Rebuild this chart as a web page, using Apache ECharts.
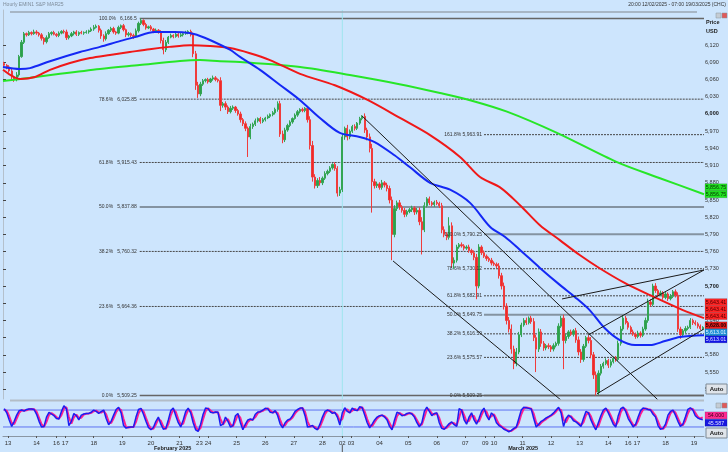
<!DOCTYPE html>
<html><head><meta charset="utf-8">
<script src="https://cdn.jsdelivr.net/npm/echarts@6/dist/echarts.min.js"></script>
<style>html,body{margin:0;padding:0;background:#cde5fd;}#c{width:728px;height:452px;}</style>
</head><body><div id="c"></div>
<script>
// ---- session structure (hours of trading per day segment) ----
const sessionHours = [4,23,16,7,23,23,23,23,16,7,23,23,23,23,16,7,23,23,23,23,16,7,23,23,23,23,16,7,23,23,8];
const dayLabels = ['','13','14','16','17','18','19','20','21','23','24','25','26','27','28','02','03','04','05','06','07','09','10','11','12','13','14','16','17','18','19'];
const monthNames = ['February 2025','March 2025'];

// ---- 2-hour candles: closes, wick extents ----
const firstOpen = 6088;
const closes = [
6085,6082,6075,6065,6060,6068,6100,6125,6140,6138,
6142,6140,6143,6141,6138,6132,6126,6133,6140,6142,
6139,6137,6141,6144,6143,6133,6136,6140,6143,6139,
6142,6141,6142,6143,6145,6148,6151,6153,6146,6136,
6131,6140,6146,6149,6143,6141,6151,6154,6147,6138,
6140,6137,6135,6145,6158,6163,6156,6150,6152,6148,
6144,6146,6143,6128,6112,6125,6134,6137,6135,6139,
6136,6138,6140,6142,6144,6138,6105,6050,6035,6052,
6058,6060,6056,6061,6063,6060,6058,6015,6018,6012,
6004,6010,6012,6006,6000,5990,5983,5975,5960,5978,
5982,5988,5992,5987,5990,5993,5996,5999,6002,6008,
6018,5965,5955,5972,5980,5986,5992,5998,6004,6008,
6006,6010,5990,5945,5890,5875,5884,5880,5888,5896,
5900,5906,5912,5905,5862,5868,5960,5975,5960,5970,
5978,5975,5984,5992,5996,5972,5960,5940,5882,5875,
5878,5872,5880,5876,5870,5850,5790,5835,5845,5838,
5832,5825,5830,5833,5836,5829,5832,5812,5798,5840,
5852,5845,5842,5846,5844,5840,5798,5790,5785,5805,
5740,5745,5768,5772,5770,5766,5768,5762,5758,5750,
5700,5768,5758,5752,5748,5745,5740,5738,5735,5718,
5700,5665,5640,5625,5590,5565,5585,5615,5632,5640,
5636,5644,5638,5610,5590,5620,5600,5592,5596,5594,
5590,5596,5600,5630,5644,5605,5612,5620,5616,5622,
5606,5585,5572,5595,5610,5605,5580,5545,5515,5548,
5560,5565,5570,5562,5568,5574,5572,5600,5625,5644,
5636,5628,5620,5616,5612,5618,5614,5625,5640,5672,
5668,5700,5692,5685,5688,5680,5686,5678,5682,5690,
5684,5625,5615,5622,5626,5628,5640,5636,5634,5630,
5626,5628];
const wickUp = [
3,2,3,4,2,5,3,4,3,2, 3,2,4,3,2,3,2,4,3,2, 3,2,3,2,3,4,2,3,2,3, 2,3,2,3,2,3,4,3,2,3,
3,4,2,3,3,2,3,2,3,2, 3,2,3,4,3,3.5,2,3,2,3, 2,3,2,3,5,4,2,3,2,3, 2,3,2,3,2,3,4,5,6,4,
3,2,3,2,4,3,2,6,3,4, 3,4,3,2,3,4,3,4,3,5, 3,4,2,3,3,2,3,2,3,3, 4,5,6,4,3,3,2,3,3,2,
3,2,4,6,8,5,4,6,3,4, 3,3,2,4,4,5,5,3,6,3, 3,4,2,3,2,5,4,6,8,5, 4,3,5,3,4,5,6,6,4,5,
3,4,3,3,4,3,4,5,8,6, 3,4,3,3,4,3,5,6,4,15, 6,5,4,3,4,3,3,4,3,4, 6,5,3,4,3,3,4,3,3,5,
5,6,5,6,8,6,7,5,4,4, 5,3,4,6,5,6,5,4,3,4, 3,4,3,5,4,6,5,3,4,3, 5,6,5,4,3,4,6,5,6,5,
4,3,4,3,4,3,4,5,5,5, 4,3,3,4,3,4,3,4,5,6, 5,4,5,3,4,3,4,3,4,3, 4,5,4,3,4,3,4,3,4,3, 3,2];
const wickDn = [
3,4,3,5,4,3,3,2,3,3, 2,3,2,3,3,4,5,3,2,3, 2,3,3,2,3,4,3,2,3,3, 3,2,3,2,3,2,3,2,4,5,
5,3,2,3,3,3,2,3,3,4, 3,3,4,2,3,3,3,3,2,3, 3,2,3,5,8,4,3,2,3,2, 3,2,3,2,3,3,6,8,7,4,
3,3,3,2,3,3,3,10,4,5, 4,3,3,4,3,5,4,5,35,4, 4,3,3,4,3,3,2,3,3,3, 4,5,6,4,3,3,3,2,3,3,
3,3,5,7,8,5,4,5,4,3, 3,3,3,4,6,5,4,5,6,4, 3,4,3,3,3,5,6,7,54,5, 4,4,4,4,5,6,45,5,4,5,
4,5,4,3,4,5,4,6,43,4, 3,4,3,4,3,4,6,5,5,4, 8,10,4,3,3,4,3,4,4,5, 23,4,4,3,4,3,4,3,4,5,
6,6,7,6,8,10,5,4,4,3, 4,3,4,6,40,5,6,5,4,4, 5,4,3,4,3,50,5,4,3,4, 5,6,6,4,3,5,6,7,5.75,5,
4,4,3,5,4,3,4,3,4,3, 3,4,4,3,4,3,4,3,3,4, 4,3,4,4,3,4,3,4,3,3, 4,5,7,3,4,3,3,4,3,4, 3,3];

// ---- moving averages: [hour, price] knots ----
const blueMAHours = [0,13.7,21.7,37.8,62,78,94,106,122,138,150,158.5,166.5,182.6,190.7,206.8,222.9,239,255,271,287,299,315,327.5,343.6,359.7,375.8,392,404,416,432,448,460,472,484,496,508.5,520.6,532.6,544.7,564];
const blueMA = [6082,6078.5,6080,6092,6108,6117,6127,6134,6143,6143,6141,6136,6129,6112,6099.5,6077,6050.6,6024,5993,5967,5960,5951,5928,5907,5880,5868,5845,5803,5785.6,5763,5731.6,5702,5681,5658,5626.7,5606,5597,5597,5604,5611,5614];
const redMAHours = [0,13.7,25.7,37.8,53.9,70,86,102,118,134,150.5,166.5,182.6,198.7,214.8,239,267,293.7,319.4,343.6,367.7,383.8,399.9,416,432,448,464,480,500.5,520.6,547,564];
const redMA = [6077,6061,6064.5,6077,6089,6097.6,6103,6108,6113,6117,6120,6118.6,6115,6106,6094,6070,6050,6024,5993,5963,5925,5890,5872,5841,5806,5780,5754,5731,5705,5684,5658,5644];
const greenMAHours = [0,21.7,45.9,78,110,142.4,158.5,174.6,190.7,239,279,319,351.6,375.8,405.5,445.7,494,528.6,564];
const greenMA = [6057.5,6063,6070,6078.5,6085.4,6092.4,6094,6092,6090.7,6082,6068,6052,6036.6,6024,6004,5967,5916,5888,5860];

// ---- trend / channel lines: [[hour, price],[hour, price]] ----
const channelLines = [
  [[288.9,5996.5],[528.6,5498]],
  [[313.8,5743.7],[449.8,5499.6]],
  [[477.9,5512],[564,5625.3]],
  [[449.8,5677.5],[564,5728]],
  [[470.7,5614.5],[564,5728]]
];

// ---- Fibonacci retracements ----
const fibLeftPct = ['100.0%','78.6%','61.8%','50.0%','38.2%','23.6%','0.0%'];
const fibLeftPrice = [6166.5,6025.85,5915.43,5837.88,5760.32,5664.36,5509.25];
const fibLeftStartHour = 110;
const fibRightPct = ['161.8%','100.0%','78.6%','61.8%','50.0%','38.2%','23.6%','0.0%'];
const fibRightPrice = [5963.91,5790.25,5730.12,5682.91,5649.75,5616.59,5575.57,5509.25];
const fibRightStartHour = 387;

// ---- stochastic ----
const stochK = [
85,70,45,22,40,62,78,80,76,82, 84,84,82,65,40,20,22,55,72,66, 60,50,48,75,95,85,25,40,68,60,
45,62,66,68,68,72,80,75,68,74, 80,50,28,40,62,82,90,70,25,16, 19,20,20,55,82,86,65,40,18,10,
18,40,55,30,12,15,45,78,87,60, 35,20,45,75,87,70,35,10,4,30, 65,87,85,72,70,73,72,25,30,55,
40,20,25,60,68,35,10,30,45,48, 45,65,73,74,80,86,85,72,70,78, 60,30,17,35,45,48,60,75,82,87,
87,60,20,22,25,15,10,30,55,75, 80,76,68,72,55,27,70,88,75,70, 87,80,78,92,88,62,35,17,30,45,
55,60,62,55,45,22,10,45,72,68, 60,62,68,70,66,55,35,20,35,75, 90,75,60,68,70,35,15,12,22,32,
38,28,22,85,80,45,30,55,70,45, 30,50,75,87,60,45,70,60,35,25, 20,12,8,3,8,15,20,50,80,90,
88,86,84,50,20,30,40,45,52,57, 62,70,80,90,70,22,50,62,55,42, 38,30,22,50,75,70,45,25,10,35,
60,80,87,70,50,30,20,60,85,90, 75,50,35,20,30,55,78,87,85,82, 80,65,55,25,12,15,30,62,75,80,
62,40,22,30,55,82,88,80,60,52, 48,45.587];
const stochD = [
80,78,58,34,30,50,70,79,78,79, 83,84,83,74,52,30,21,38,63,69, 63,55,49,62,85,90,55,32,54,64,
52,53,64,67,68,70,76,78,72,71, 77,65,39,34,51,72,86,80,48,20, 18,20,20,38,68,84,76,52,29,14,
14,29,48,42,21,13,30,62,82,74, 48,28,32,60,81,78,52,22,7,17, 48,76,86,78,71,72,72,48,28,42,
48,30,22,42,64,52,22,20,38,46, 46,55,69,74,77,83,86,78,71,74, 69,45,23,26,40,46,54,68,78,85,
87,74,40,21,23,20,12,20,42,65, 78,78,72,70,63,41,48,79,82,72, 78,84,79,85,90,75,48,26,23,37,
50,58,61,58,50,34,16,28,58,70, 64,61,65,69,68,60,45,28,28,55, 82,82,68,64,69,52,25,14,17,27,
35,33,25,54,82,62,38,42,62,58, 38,40,62,81,74,52,58,65,48,30, 22,16,10,6,6,12,18,35,65,85,
89,87,85,67,35,25,35,42,48,55, 60,66,75,85,80,46,36,56,58,48, 40,34,26,36,62,72,58,35,18,22,
48,70,84,78,60,40,25,40,72,88, 82,62,42,28,25,42,66,82,86,83, 81,72,60,40,18,13,22,46,68,78,
71,51,31,26,42,68,85,84,70,56, 50,54];
const stochLevels = [80,20];

// ---- axis ticks ----
const priceTicks = [5520,5550,5580,5610,5640,5670,5700,5730,5760,5790,5820,5850,5880,5910,5940,5970,6000,6030,6060,6090,6120];

// ================= build =================
const F = 'Liberation Sans, Arial, sans-serif';
const totalHours = sessionHours.reduce((a,b)=>a+b,0);
const dayHours = []; const labelByHour = {};
let acc = 0;
sessionHours.forEach((h,i)=>{ if(i>0){ dayHours.push(acc); labelByHour[acc]=dayLabels[i]; } acc += h; });
const monthBreak = dayHours[dayLabels.indexOf('02')-1];
const bucketIdx = closes.map((_,i)=>String(i));
const candleData = closes.map((c,i)=>{
  const o = i===0 ? firstOpen : closes[i-1];
  return [o, c, Math.min(o,c)-wickDn[i], Math.max(o,c)+wickUp[i]];
});
const pairs = (hs, vs) => hs.map((h,i)=>[h, vs[i]]);
const Y0MIN = 5503, Y0MAX = 6181.3;

const series = [];
function fibSeries(pcts, prices, start){
  pcts.forEach((p,i)=>{
    const solid = (p==='100.0%'||p==='50.0%'||p==='0.0%');
    let color = '#474747', width = 1, type = [2,1];
    if (solid){
      type = 'solid';
      if (p==='50.0%' || (p==='100.0%' && prices[i] < 6000)) { color = '#8493a1'; width = 2; }
      else { color = '#666'; width = 1.5; }
    }
    series.push({type:'line', xAxisIndex:1, yAxisIndex:0, data:[[start, prices[i]],[totalHours, prices[i]]],
      showSymbol:false, silent:true, z:1, lineStyle:{color, width, type}});
  });
}
fibSeries(fibLeftPct, fibLeftPrice, fibLeftStartHour);
fibSeries(fibRightPct, fibRightPrice, fibRightStartHour);
// month boundary vertical line (main + stoch)
series.push({type:'line', xAxisIndex:1, yAxisIndex:0, data:[[monthBreak,Y0MIN],[monthBreak,Y0MAX]], showSymbol:false, silent:true, z:1, lineStyle:{color:'#9fe6ee', width:1}});
series.push({type:'candlestick', xAxisIndex:0, yAxisIndex:0, data:candleData, barWidth:1.8, z:2,
  itemStyle:{color:'#2c9f4c', color0:'#ee2a2a', borderColor:'#33a553', borderColor0:'#f03c3c', borderWidth:1}});
series.push({type:'line', xAxisIndex:1, yAxisIndex:0, data:pairs(greenMAHours, greenMA), showSymbol:false, smooth:0.3, z:3, lineStyle:{color:'#27e627', width:2}});
series.push({type:'line', xAxisIndex:1, yAxisIndex:0, data:pairs(redMAHours, redMA), showSymbol:false, smooth:0.3, z:3, lineStyle:{color:'#f01818', width:2}});
series.push({type:'line', xAxisIndex:1, yAxisIndex:0, data:pairs(blueMAHours, blueMA), showSymbol:false, smooth:0.3, z:3, lineStyle:{color:'#1428f5', width:2}});
channelLines.forEach(seg=>{
  series.push({type:'line', xAxisIndex:1, yAxisIndex:0, data:seg, showSymbol:false, silent:true, z:4, lineStyle:{color:'#1a1a1a', width:1}});
});
// stochastic panel
stochLevels.forEach(v=>{
  series.push({type:'line', xAxisIndex:3, yAxisIndex:1, data:[[0,v],[totalHours,v]], showSymbol:false, silent:true, z:1, lineStyle:{color:'#5e72f2', width:1}});
});
series.push({type:'line', xAxisIndex:3, yAxisIndex:1, data:[[monthBreak,-12],[monthBreak,105]], showSymbol:false, silent:true, z:1, lineStyle:{color:'#9fe6ee', width:1}});
series.push({type:'line', xAxisIndex:2, yAxisIndex:1, data:stochD, showSymbol:false, z:3, lineStyle:{color:'#ff2090', width:2}});
series.push({type:'line', xAxisIndex:2, yAxisIndex:1, data:stochK, showSymbol:false, z:4, lineStyle:{color:'#1c1cf2', width:1.5}});

const option = {
  backgroundColor:'#cde5fd',
  animation:false,
  textStyle:{fontFamily:F},
  grid:[{left:3,right:24,top:10,height:389},{left:3,right:24,top:403,height:33}],
  xAxis:[
    {type:'category', gridIndex:0, data:bucketIdx, show:false},
    {type:'value', gridIndex:0, min:0, max:totalHours, show:false},
    {type:'category', gridIndex:1, data:bucketIdx, show:false},
    {type:'value', gridIndex:1, min:0, max:totalHours, position:'bottom',
      axisLine:{show:true, onZero:false, lineStyle:{color:'#8a96a3'}},
      axisTick:{show:true, customValues:dayHours, length:2, lineStyle:{color:'#555'}},
      axisLabel:{customValues:dayHours, formatter:v=>labelByHour[v]||'', fontSize:6, color:'#333', margin:4, fontFamily:F},
      splitLine:{show:false}}
  ],
  yAxis:[
    {type:'value', gridIndex:0, position:'right', min:Y0MIN, max:Y0MAX,
      axisLine:{show:true, lineStyle:{color:'#b4c0cc'}},
      axisTick:{show:true, customValues:priceTicks, length:3, lineStyle:{color:'#444'}},
      axisLabel:{customValues:priceTicks, margin:1, fontSize:5.5, color:'#333', fontFamily:F,
        formatter:v=>{const s=Math.round(v).toLocaleString('en-US'); return (v%300===0)?'{b|'+s+'}':s;},
        rich:{b:{fontWeight:'bold', fontSize:5.5, color:'#111', fontFamily:F}}},
      splitLine:{show:false}},
    {type:'value', gridIndex:1, position:'right', min:-12, max:105, show:false}
  ],
  series
};
const chart = echarts.init(document.getElementById('c'), null, {renderer:'canvas'});
chart.setOption(option);

// ---- overlay texts and tags ----
const X = h => chart.convertToPixel({xAxisIndex:1}, h);
const Y = p => chart.convertToPixel({yAxisIndex:0}, p);
const g = [];
function txt(x, y, text, opt){
  opt = opt || {};
  g.push({type:'text', x, y, z:100, silent:true, style:{text, fill:opt.fill||'#333', font:(opt.bold?'bold ':'')+(opt.size||5.5)+'px '+F,
    textAlign:opt.align||'left', align:opt.align||'left', textVerticalAlign:'middle', verticalAlign:'middle'}});
}
function tag(yc, text, bg, fg, bold){
  g.push({type:'rect', z:99, silent:true, shape:{x:705, y:yc-3.5, width:22, height:7}, style:{fill:bg, stroke:'rgba(0,0,0,0.25)', lineWidth:0.5}});
  txt(716, yc+0.3, text, {fill:fg, align:'center', size:5.3, bold});
}
function button(yTop){
  g.push({type:'rect', z:99, silent:true, shape:{x:706, y:yTop, width:21, height:10}, style:{fill:'#dfe4ea', stroke:'#7f8a95', lineWidth:1}});
  txt(716.5, yTop+5.2, 'Auto', {fill:'#222', align:'center', bold:true, size:6});
}
function icons(y){
  g.push({type:'rect', z:99, silent:true, shape:{x:716, y, width:5, height:5}, style:{fill:'#c4ccd4', stroke:'#8a949e', lineWidth:0.5}});
  g.push({type:'rect', z:99, silent:true, shape:{x:722, y, width:5, height:5}, style:{fill:'#e05a5a', stroke:'#8a949e', lineWidth:0.5}});
}
const fmtP = v => v.toLocaleString('en-US',{maximumFractionDigits:2});
fibLeftPct.forEach((p,i)=>txt(X(fibLeftStartHour)-3, Y(fibLeftPrice[i]), p+'   '+fmtP(fibLeftPrice[i]), {size:5, align:'right'}));
fibRightPct.forEach((p,i)=>txt(X(fibRightStartHour)-2, Y(fibRightPrice[i]), p+' '+fmtP(fibRightPrice[i]), {size:5, align:'right'}));

// header
txt(3, 5, 'Hourly EMIN1 S&P MAR25', {fill:'#7f8d9b', size:5});
txt(726, 5, '20:00 12/02/2025 - 07:00 19/03/2025 (CHC)', {align:'right', size:5});
g.push({type:'line', z:50, silent:true, shape:{x1:10,y1:12,x2:697,y2:12}, style:{stroke:'#9aa6b2', lineWidth:1.5}});
g.push({type:'line', z:50, silent:true, shape:{x1:10,y1:400.5,x2:704,y2:400.5}, style:{stroke:'#b3bdc7', lineWidth:2}});
icons(13);
txt(706, 22, 'Price', {bold:true, size:5.5, fill:'#222'});
txt(706, 31, 'USD', {bold:true, size:5.5, fill:'#222'});
button(384);
button(428);
icons(403);
// last-value tags
const gY = Y(greenMA[greenMA.length-1]);
tag(gY-7, '5,856.75', '#22e322', '#053005');
tag(gY, '5,856.75', '#22e322', '#053005');
const rY = Y(redMA[redMA.length-1]);
tag(rY-16, '5,643.41', '#ff2323', '#4a0000');
tag(rY-9, '5,643.41', '#ff2323', '#4a0000');
tag(rY-2, '5,643.41', '#ff2323', '#4a0000');
tag(Y(closes[closes.length-1])-2, '5,628.00', '#e81c1c', '#1a0000', true);
const bY = Y(blueMA[blueMA.length-1]);
tag(bY-3, '5,613.01', '#1b8fd6', '#e8f4ff');
tag(bY+4, '5,613.01', '#1414e6', '#dde2ff');
// stochastic value tags
const YS = v => chart.convertToPixel({yAxisIndex:1}, v);
tag(YS(stochD[stochD.length-1])-2, '54.000', '#ff2a92', '#3a0018');
tag(YS(stochK[stochK.length-1])+3, '45.587', '#1818e0', '#e0e4ff');
// month labels
const XS = h => chart.convertToPixel({xAxisIndex:3}, h);
txt((XS(0)+XS(monthBreak))/2, 448, monthNames[0], {bold:true, size:5.5, align:'center', fill:'#222'});
txt((XS(monthBreak)+XS(totalHours))/2, 448, monthNames[1], {bold:true, size:5.5, align:'center', fill:'#222'});
g.push({type:'line', z:50, silent:true, shape:{x1:XS(monthBreak),y1:445,x2:XS(monthBreak),y2:452}, style:{stroke:'#555', lineWidth:1}});
chart.setOption({graphic:g});
</script></body></html>
